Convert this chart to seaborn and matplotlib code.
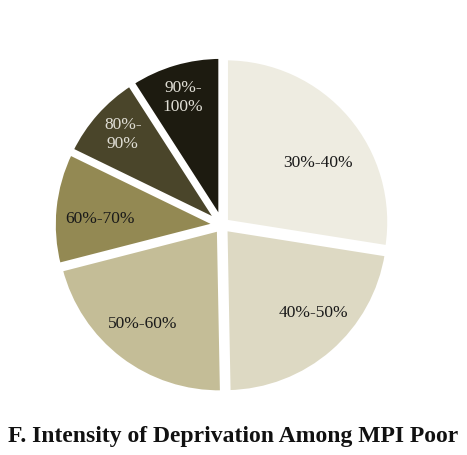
import matplotlib
matplotlib.use("Agg")
import matplotlib.pyplot as plt
import seaborn as sns

# intensity bands and their shares (%)
bands = ["30%-40%", "40%-50%", "50%-60%", "60%-70%", "80%-\n90%", "90%-\n100%"]
shares = [27.5, 22.2, 21.3, 11.2, 8.7, 9.1]
colors = ["#EEECE1", "#DDD9C3", "#C4BD97", "#938953", "#4A452A", "#1D1B10"]
text_colors = ["#1a1a1a", "#1a1a1a", "#1a1a1a", "#1a1a1a", "#E0DED5", "#E0DED5"]
TITLE = "F. Intensity of Deprivation Among MPI Poor"

sns.set_theme(style="white")
plt.rcParams["font.family"] = ["Liberation Serif", "DejaVu Serif"]

fig = plt.figure(figsize=(4.67, 4.55), dpi=100)
ax = fig.add_axes([0.103, 0.123, 0.745, 0.765])

wedges, texts = ax.pie(
    shares,
    labels=bands,
    colors=colors,
    startangle=90,
    counterclock=False,
    explode=[0.028] * len(shares),
    labeldistance=0.74,
    wedgeprops=dict(edgecolor="white", linewidth=3.5),
    textprops=dict(fontsize=12.5, ha="center", va="center", linespacing=1.25),
)
# small label nudges (data units) to sit like the original
nudges = [(0.0, -0.12), (0.05, 0.04), (-0.02, 0.01), (0.02, -0.04), (-0.03, 0.04), (-0.02, 0.04)]
for t, c, (dx, dy) in zip(texts, text_colors, nudges):
    t.set_color(c)
    t.set_horizontalalignment("center")
    x, y = t.get_position()
    t.set_position((x + dx, y + dy))
ax.set_xlim(-1.06, 1.06)
ax.set_ylim(-1.06, 1.06)
ax.set_aspect("equal")

fig.text(0.5, 0.04, TITLE, ha="center", va="center",
         fontsize=17, fontweight="bold", color="#111111")

fig.savefig("out.png", dpi=100, facecolor="white")
